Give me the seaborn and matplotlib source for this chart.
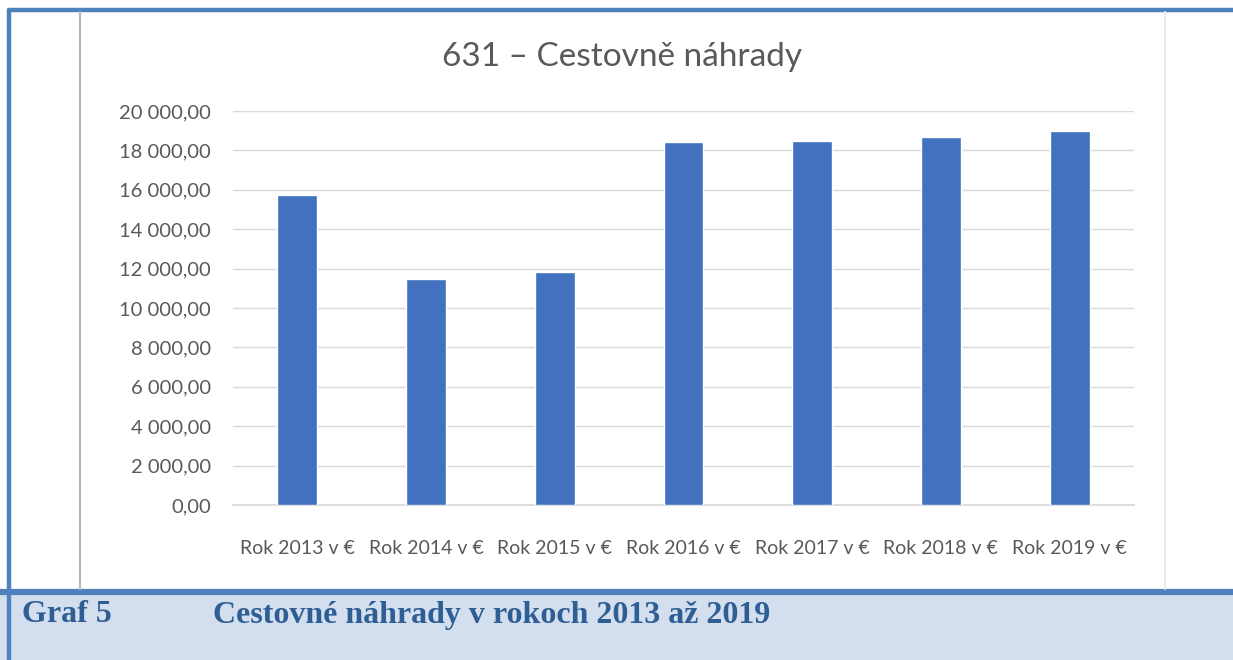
import matplotlib
matplotlib.use("Agg")
import matplotlib.pyplot as plt
from matplotlib.patches import Rectangle
from matplotlib.lines import Line2D
from matplotlib.ticker import FuncFormatter
import seaborn as sns
import pandas as pd

# data
roky = ["Rok 2013 v €", "Rok 2014 v €", "Rok 2015 v €", "Rok 2016 v €",
        "Rok 2017 v €", "Rok 2018 v €", "Rok 2019 v €"]
naklady = [15750, 11450, 11850, 18430, 18480, 18690, 18990]
y_ticks = [0, 2000, 4000, 6000, 8000, 10000, 12000, 14000, 16000, 18000, 20000]

nadpis = "631 – Cestovně náhrady"
popis_cislo = "Graf 5"
popis_text = "Cestovné náhrady v rokoch 2013 až 2019"

sns.set_theme(style="white")
plt.rcParams["font.family"] = ["Lato", "DejaVu Sans"]

W, H = 1233, 660
fig = plt.figure(figsize=(W / 100, H / 100), dpi=100)
fig.patch.set_facecolor("white")


def fx(px):
    return px / W


def fy(py):
    return 1 - py / H


# frame and caption band
fig.patches.append(Rectangle((0, 0), 1, fy(593), transform=fig.transFigure,
                             facecolor="#D3DFEE", edgecolor="none", zorder=0))
fig.lines.append(Line2D([0, 1], [fy(591.5), fy(591.5)], transform=fig.transFigure,
                        color="#4F81BD", lw=4.5))
fig.lines.append(Line2D([fx(8.5), 1], [fy(9.5), fy(9.5)], transform=fig.transFigure,
                        color="#4F81BD", lw=3.2))
fig.lines.append(Line2D([fx(8.5), fx(8.5)], [fy(9.5), 0], transform=fig.transFigure,
                        color="#4F81BD", lw=3.2))
fig.lines.append(Line2D([fx(80), fx(80)], [fy(12), fy(589)], transform=fig.transFigure,
                        color="#B8B8B8", lw=1.5))
fig.lines.append(Line2D([fx(1165), fx(1165)], [fy(12), fy(589)], transform=fig.transFigure,
                        color="#EBEBEB", lw=1.5))

ax = fig.add_axes([fx(233), fy(505), fx(1134 - 233), (505 - 111) / H])

df = pd.DataFrame({"rok": roky, "suma": naklady})
sns.barplot(data=df, x="rok", y="suma", color="#4271C0", saturation=1,
            width=0.31, ax=ax, zorder=3)

ax.set_ylim(0, 20000)
ax.set_xlim(-0.5, len(roky) - 0.5)
ax.set_yticks(y_ticks)
ax.yaxis.set_major_formatter(FuncFormatter(
    lambda v, p: f"{v:,.2f}".replace(",", " ").replace(".", ",")))
ax.grid(axis="y", color="#D9D9D9", lw=1, zorder=0)
ax.set_axisbelow(True)
for s in ["top", "right", "left"]:
    ax.spines[s].set_visible(False)
ax.spines["bottom"].set_color("#D9D9D9")
ax.set_xlabel("")
ax.set_ylabel("")
ax.tick_params(axis="y", length=0, pad=16, labelsize=14.5, labelcolor="#595959")
ax.tick_params(axis="x", length=0, pad=25, labelsize=14, labelcolor="#595959")
ax.set_facecolor("none")

fig.text(fx(622), fy(57), nadpis, ha="center", va="center",
         fontsize=24, color="#595959")

fig.text(fx(22), fy(615), popis_cislo, ha="left", va="center",
         fontsize=23, fontweight="bold", color="#2F5E95",
         family="Liberation Serif")
fig.text(fx(213), fy(615), popis_text, ha="left", va="center",
         fontsize=23, fontweight="bold", color="#2F5E95",
         family="Liberation Serif")

fig.savefig("out.png", dpi=100)
